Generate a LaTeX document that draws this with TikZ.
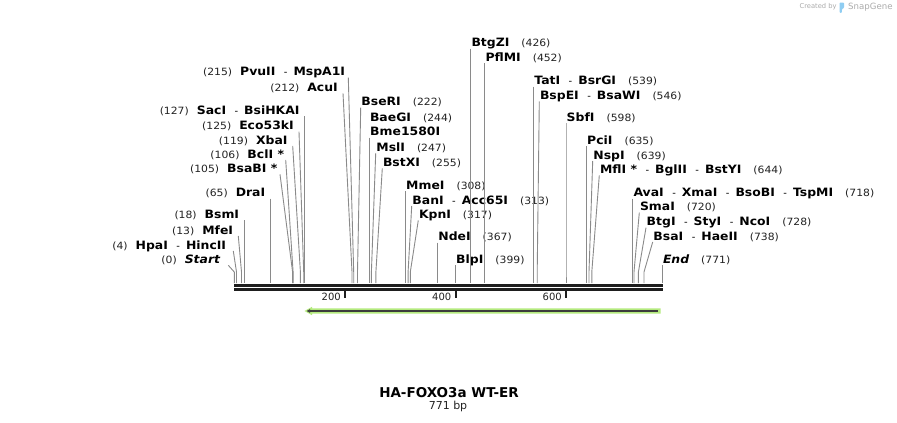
\documentclass[tikz,border=0pt]{standalone}
\usepackage{fontspec}
\setmainfont{DejaVu Sans}
\newfontfamily\widefam{DejaVu Sans}[FakeStretch=1.08]
\usetikzlibrary{arrows.meta}
\definecolor{conncol}{HTML}{8A8A8A}
\definecolor{bbcol}{HTML}{1E1E1E}
\definecolor{featgreen}{HTML}{B4EA7E}
\definecolor{featdark}{HTML}{3C3C3C}
\definecolor{logogray}{HTML}{ABABAB}
\definecolor{logoblue}{HTML}{8FCDF2}
\definecolor{numcol}{HTML}{222222}

\newcommand{\enz}[1]{{\widefam\fontsize{11.5}{13}\selectfont\bfseries #1}}
\newcommand{\bpn}[1]{{\widefam\fontsize{10}{12}\selectfont\color{numcol}(#1)}}
\newcommand{\dsh}{\hspace{8.5pt}{\fontsize{10}{12}\selectfont-}\hspace{6pt}}
\newcommand{\rgap}{\hspace{12pt}}
\newcommand{\lgap}{\hspace{8pt}}

\newcommand{\Rlab}[5]{%
  \node[lab, anchor=base west] (#1) at (#2+0.5, #3+4.2) {#5};
  \coordinate (#1-k) at (#4, 272);
  \coordinate (#1-s) at (#4, 283);
  \draw[conn] ([xshift=-0.5pt, yshift=-1.8pt]#1.base west) -- (#1-k) -- (#1-s);
}
\newcommand{\Llab}[6]{%
  \node[lab, anchor=base east] (#1) at (#2-#5, #3+4.2) {#6};
  \coordinate (#1-k) at (#4, 272);
  \coordinate (#1-s) at (#4, 283);
  \draw[conn] ([xshift=#5pt, yshift=-1.8pt]#1.base east) -- (#1-k) -- (#1-s);
}

\begin{document}
\begin{tikzpicture}[x=1pt, y=-1pt,
  lab/.style={inner sep=0pt, text=black},
  conn/.style={draw=conncol, line width=0.9pt},
  backbone/.style={draw=bbcol, line width=3pt},
  tickmark/.style={draw=bbcol, line width=2pt},
  ticklab/.style={inner sep=0pt, font=\fontsize{10}{12}\selectfont, text=numcol}]
\fill[white] (0,0) rectangle (897,423);
\useasboundingbox (0,0) rectangle (897,423);

% logo
\node[anchor=west, text=logogray, font=\fontsize{6.7}{8}\selectfont, inner sep=0pt] (createdby) at (799.5,7) {Created by};
\fill[logoblue, rounded corners=0.8pt] (839.5,12.8) -- (839.5,2.5) -- (844,2.5) -- (844,8) -- (841.8,9.2) -- (841.8,12.8) -- cycle;
\node[anchor=west, text=logogray, font=\fontsize{8.6}{10}\selectfont, inner sep=0pt] (snapgene) at (848,7.5) {SnapGene};

% backbone
\coordinate (bbL) at (234,285);
\coordinate (bbR) at (662.8,285);
\coordinate (bbL2) at (234,289.7);
\coordinate (bbR2) at (662.8,289.7);
\draw[backbone] (bbL) -- (bbR);
\draw[backbone, line width=2.8pt] (bbL2) -- (bbR2);

% ticks
\draw[tickmark] (345,291) -- (345,297.5);
\draw[tickmark] (455.5,291) -- (455.5,297.5);
\draw[tickmark] (566,291) -- (566,297.5);
\node[ticklab, anchor=base east] (t200) at (341,300.5) {200};
\node[ticklab, anchor=base east] (t400) at (451.5,300.5) {400};
\node[ticklab, anchor=base east] (t600) at (562,300.5) {600};

% feature arrow
\fill[featgreen] (660.5,308.3) -- (312,308.3) -- (312,306.8) -- (304.5,311) -- (312,315.2) -- (312,313.7) -- (660.5,313.7) -- cycle;
\draw[featdark, line width=1.4pt, -{Latex[length=3.5pt,width=4pt]}] (658,311) -- (306.5,311);

% left labels
\Llab{PvuII}{348.3}{71.7}{353.7}{3}{\bpn{215}\lgap\enz{PvuII}\dsh\enz{MspA1I}}
\Llab{AcuI}{343}{87.3}{352.0}{5}{\bpn{212}\lgap\enz{AcuI}}
\Llab{SacI}{304.8}{110}{304.8}{5}{\bpn{127}\lgap\enz{SacI}\dsh\enz{BsiHKAI}}
\Llab{EcoI}{299}{125.7}{303.7}{5}{\bpn{125}\lgap\enz{Eco53kI}}
\Llab{XbaI}{292.7}{140}{300.4}{5}{\bpn{119}\lgap\enz{XbaI}}
\Llab{BclI}{285.7}{154}{293.1}{1.5}{\bpn{106}\lgap\enz{BclI *}}
\Llab{BsaBI}{280}{168.3}{292.6}{2.5}{\bpn{105}\lgap\enz{BsaBI *}}
\Llab{DraI}{270.4}{192.7}{270.4}{5}{\bpn{65}\lgap\enz{DraI}}
\Llab{BsmI}{244.3}{214.3}{244.3}{5}{\bpn{18}\lgap\enz{BsmI}}
\Llab{MfeI}{238.3}{230}{241.5}{5}{\bpn{13}\lgap\enz{MfeI}}
\Llab{HpaI}{233.3}{245}{236.5}{7}{\bpn{4}\lgap\enz{HpaI}\dsh\enz{HincII}}
\Llab{Start}{228.3}{259.3}{234.3}{8}{\bpn{0}\lgap\enz{\itshape Start}}

% right labels
\Rlab{BseRI}{360.7}{101.7}{357.5}{\enz{BseRI}\rgap\bpn{222}}
\node[lab, anchor=base west] (BaeGI) at (369.8,121.5) {\enz{BaeGI}\rgap\bpn{244}};
\Rlab{Bme}{369.5}{131.7}{369.5}{\enz{Bme1580I}}
\Rlab{MslI}{375.7}{147.3}{371.4}{\enz{MslI}\rgap\bpn{247}}
\Rlab{BstXI}{382.3}{162.3}{375.9}{\enz{BstXI}\rgap\bpn{255}}
\Rlab{MmeI}{405.5}{185}{405.5}{\enz{MmeI}\rgap\bpn{308}}
\Rlab{BanI}{411.7}{200}{408.1}{\enz{BanI}\dsh\enz{Acc65I}\rgap\bpn{313}}
\Rlab{KpnI}{418.3}{214.3}{410.3}{\enz{KpnI}\rgap\bpn{317}}
\Rlab{NdeI}{437.7}{236.7}{437.7}{\enz{NdeI}\rgap\bpn{367}}
\Rlab{BlpI}{455.5}{259.3}{455.5}{\enz{BlpI}\rgap\bpn{399}}
\Rlab{BtgZI}{470.8}{42.7}{470.8}{\enz{BtgZI}\rgap\bpn{426}}
\Rlab{PflMI}{484.8}{57.3}{484.8}{\enz{PflMI}\rgap\bpn{452}}
\Rlab{TatI}{533.7}{80.7}{533.7}{\enz{TatI}\dsh\enz{BsrGI}\rgap\bpn{539}}
\Rlab{BspEI}{539.3}{95.5}{537.2}{\enz{BspEI}\dsh\enz{BsaWI}\rgap\bpn{546}}
\Rlab{SbfI}{566}{117.3}{566}{\enz{SbfI}\rgap\bpn{598}}
\Rlab{PciI}{586.5}{140}{586.5}{\enz{PciI}\rgap\bpn{635}}
\Rlab{NspI}{592.7}{155}{589}{\enz{NspI}\rgap\bpn{639}}
\Rlab{MflI}{599.3}{169.3}{591.8}{\enz{MflI *}\dsh\enz{BglII}\dsh\enz{BstYI}\rgap\bpn{644}}
\Rlab{AvaI}{632.8}{192.7}{632.8}{\enz{AvaI}\dsh\enz{XmaI}\dsh\enz{BsoBI}\dsh\enz{TspMI}\rgap\bpn{718}}
\Rlab{SmaI}{639.3}{206.7}{634}{\enz{SmaI}\rgap\bpn{720}}
\Rlab{BtgI}{646}{221.7}{638.4}{\enz{BtgI}\dsh\enz{StyI}\dsh\enz{NcoI}\rgap\bpn{728}}
\Rlab{BsaI}{652.7}{236}{644}{\enz{BsaI}\dsh\enz{HaeII}\rgap\bpn{738}}
\Rlab{End}{662.3}{259.3}{662.3}{\enz{\itshape End}\rgap\bpn{771}}

% title
\node[inner sep=0pt, anchor=base, font=\fontsize{13.5}{16}\selectfont\bfseries] (title) at (449,397.3) {HA-FOXO3a WT-ER};
\node[inner sep=0pt, anchor=base, font=\fontsize{11}{13}\selectfont, text=numcol] (bplen) at (448,409.5) {771 bp};
\end{tikzpicture}
\end{document}
